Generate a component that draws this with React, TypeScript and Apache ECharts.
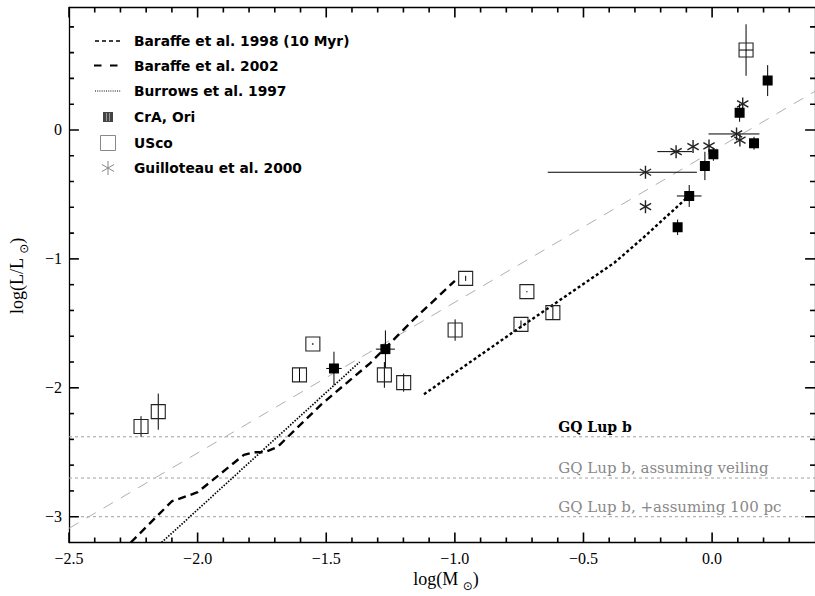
import React, { useEffect, useRef } from 'react';
import * as echarts from 'echarts';

// ---- axis ranges & ticks ----
const X_MIN = -2.5;
const X_MAX = 0.4;
const Y_MIN = -3.2;
const Y_MAX = 0.95;
const xMajorTicks = [-2.5, -2.0, -1.5, -1.0, -0.5, 0.0];
const xMinorTicks = [-2.4, -2.3, -2.2, -2.1, -1.9, -1.8, -1.7, -1.6, -1.4, -1.3, -1.2, -1.1, -0.9, -0.8, -0.7, -0.6, -0.4, -0.3, -0.2, -0.1, 0.1, 0.2, 0.3];
const yMajorTicks = [-3, -2, -1, 0];
const yMinorTicks = [-2.8, -2.6, -2.4, -2.2, -1.8, -1.6, -1.4, -1.2, -0.8, -0.6, -0.4, -0.2, 0.2, 0.4, 0.6, 0.8];

// ---- model tracks ----
const baraffe1998 = [[-1.12, -2.05], [-0.76, -1.55], [-0.38, -1.03], [-0.27, -0.84], [-0.10, -0.53]];
const baraffe2002 = [[-2.26, -3.2], [-2.10, -2.88], [-2.07, -2.86], [-2.0, -2.81], [-1.82, -2.52], [-1.78, -2.50], [-1.74, -2.50], [-1.69, -2.46], [-1.52, -2.13], [-1.33, -1.81], [-1.16, -1.47], [-1.0, -1.17]];
const burrows1997 = [[-2.14, -3.2], [-1.53, -2.09], [-1.37, -1.80]];
const fitLine = [[-2.5, -3.09], [0.4, 0.30]];

// ---- GQ Lup b levels ----
const gqLupLevels = [-2.38, -2.70, -3.0];
const gqLupLabels = ['GQ Lup b', 'GQ Lup b, assuming veiling', 'GQ Lup b, +assuming 100 pc'];
const gqLupLabelX = -0.598;

// ---- objects: [logM, logL, errXlow, errXhigh, errYlow, errYhigh] ----
const craOri = [
  [-1.47, -1.85, 0.03, 0.03, 0.13, 0.13],
  [-1.27, -1.70, 0.037, 0.037, 0.145, 0.145],
  [-0.134, -0.755, 0, 0, 0.06, 0.06],
  [-0.089, -0.512, 0.048, 0.048, 0.085, 0.085],
  [-0.028, -0.279, 0, 0, 0.11, 0.11],
  [0.005, -0.189, 0, 0, 0.05, 0.05],
  [0.107, 0.134, 0, 0, 0.07, 0.07],
  [0.163, -0.103, 0, 0, 0.05, 0.05],
  [0.216, 0.383, 0, 0, 0.12, 0.12],
];
const usco = [
  [-2.22, -2.30, 0, 0, 0.08, 0.08],
  [-2.153, -2.185, 0, 0, 0.14, 0.14],
  [-1.604, -1.90, 0, 0, 0.055, 0.055],
  [-1.552, -1.66, 0, 0, 0.008, 0.008],
  [-1.274, -1.90, 0, 0, 0.10, 0.10],
  [-1.199, -1.96, 0, 0, 0.07, 0.07],
  [-0.999, -1.552, 0, 0, 0.083, 0.083],
  [-0.958, -1.151, 0, 0, 0.02, 0.02],
  [-0.743, -1.508, 0, 0, 0.03, 0.03],
  [-0.72, -1.254, 0, 0, 0.005, 0.005],
  [-0.619, -1.417, 0, 0, 0.055, 0.055],
  [0.132, 0.62, 0.027, 0.027, 0.2, 0.2],
];
const guilloteau = [
  [-0.259, -0.328, 0.38, 0.20, 0, 0],
  [-0.259, -0.595, 0, 0, 0, 0],
  [-0.14, -0.168, 0.073, 0.063, 0, 0],
  [-0.074, -0.129, 0, 0, 0, 0],
  [-0.012, -0.124, 0, 0, 0, 0],
  [0.095, -0.031, 0.109, 0.089, 0, 0],
  [0.108, -0.078, 0, 0, 0, 0],
  [0.119, 0.202, 0, 0, 0, 0],
];

const legendItems = [
  'Baraffe et al. 1998 (10 Myr)',
  'Baraffe et al. 2002',
  'Burrows et al. 1997',
  'CrA, Ori',
  'USco',
  'Guilloteau et al. 2000',
];

const SERIF = '"Liberation Serif", "Times New Roman", serif';
const fmtMinus = (v: number, d: number) => (v < 0 ? '\u2212' : '') + Math.abs(v).toFixed(d);

// layout (pixels)
const GRID_LEFT = 69;
const GRID_RIGHT = -7;
const GRID_TOP = 7.5;
const GRID_BOTTOM = 53.5;
const W = 815;
const H = 596;
const MAJOR_LEN = 10;
const MINOR_LEN = 5;
const TICK_W = 1.6;

function errorBars(api: any, x: number, y: number) {
  const out: any[] = [];
  const st = { stroke: '#000', lineWidth: 1 };
  const exl = api.value(2), exr = api.value(3), eyl = api.value(4), eyh = api.value(5);
  if (exl > 0 || exr > 0) {
    const a = api.coord([x - exl, y]);
    const b = api.coord([x + exr, y]);
    out.push({ type: 'line', shape: { x1: a[0], y1: a[1], x2: b[0], y2: b[1] }, style: st });
  }
  if (eyl > 0 || eyh > 0) {
    const a = api.coord([x, y - eyl]);
    const b = api.coord([x, y + eyh]);
    out.push({ type: 'line', shape: { x1: a[0], y1: a[1], x2: b[0], y2: b[1] }, style: st });
  }
  return out;
}

function asterisk(cx: number, cy: number, r: number, color: string, lw: number) {
  const dx = r * 0.866, dy = r * 0.5;
  const st = { stroke: color, lineWidth: lw };
  return [
    { type: 'line', shape: { x1: cx, y1: cy - r, x2: cx, y2: cy + r }, style: st },
    { type: 'line', shape: { x1: cx - dx, y1: cy - dy, x2: cx + dx, y2: cy + dy }, style: st },
    { type: 'line', shape: { x1: cx - dx, y1: cy + dy, x2: cx + dx, y2: cy - dy }, style: st },
  ];
}

export default function App() {
  const ref = useRef<HTMLDivElement>(null);
  useEffect(() => {
    if (!ref.current) return;
    const chart = echarts.init(ref.current, undefined, { renderer: 'svg' });

    const mkX = (pos: string, labels: boolean) => ({
      type: 'value', position: pos, min: X_MIN, max: X_MAX,
      axisLine: { show: true, onZero: false, lineStyle: { color: '#000', width: 1.3 } },
      axisTick: { show: false },
      axisLabel: labels ? { show: true, customValues: xMajorTicks, formatter: (v: number) => fmtMinus(v, 1), fontFamily: SERIF, fontSize: 16, color: '#000', margin: 8 } : { show: false },
      splitLine: { show: false },
      minorTick: { show: false },
    });
    const mkY = (pos: string, labels: boolean) => ({
      type: 'value', position: pos, min: Y_MIN, max: Y_MAX,
      axisLine: { show: true, onZero: false, lineStyle: { color: '#000', width: 1.3 } },
      axisTick: { show: false },
      axisLabel: labels ? { show: true, customValues: yMajorTicks, formatter: (v: number) => fmtMinus(v, 0), fontFamily: SERIF, fontSize: 16, color: '#000', margin: 7 } : { show: false },
      splitLine: { show: false },
      minorTick: { show: false },
    });

    const lineSeries = (data: number[][], color: string, width: number, dash: any, z = 3) => ({
      type: 'line', data, xAxisIndex: 0, yAxisIndex: 0, symbol: 'none', silent: true, z,
      lineStyle: { color, width, type: dash, cap: 'butt' },
    });

    const gqSeries = gqLupLevels.map((lv) => lineSeries([[X_MIN, lv], [X_MAX, lv]], '#a0a0a0', 1, [3, 3], 1));

    // tick marks as short line series, lengths converted from pixels to axis units
    const xPerPx = (X_MAX - X_MIN) / (W - GRID_LEFT - GRID_RIGHT);
    const yPerPx = (Y_MAX - Y_MIN) / (H - GRID_TOP - GRID_BOTTOM);
    const tickLines: any[] = [];
    const addXTicks = (vals: number[], len: number) => vals.forEach((v) => {
      tickLines.push(lineSeries([[v, Y_MIN], [v, Y_MIN + len * yPerPx]], '#000', TICK_W, 'solid', 10));
      tickLines.push(lineSeries([[v, Y_MAX], [v, Y_MAX - len * yPerPx]], '#000', TICK_W, 'solid', 10));
    });
    const addYTicks = (vals: number[], len: number) => vals.forEach((v) => {
      tickLines.push(lineSeries([[X_MIN, v], [X_MIN + len * xPerPx, v]], '#000', TICK_W, 'solid', 10));
      tickLines.push(lineSeries([[X_MAX, v], [X_MAX - len * xPerPx, v]], '#000', TICK_W, 'solid', 10));
    });
    addXTicks(xMajorTicks, MAJOR_LEN);
    addXTicks(xMinorTicks, MINOR_LEN);
    addYTicks(yMajorTicks, MAJOR_LEN);
    addYTicks(yMinorTicks, MINOR_LEN);

    const legendY = [41, 65.5, 91, 117, 143, 168];
    const graphic: any[] = [];
    graphic.push({ type: 'line', shape: { x1: 95, y1: legendY[0], x2: 120, y2: legendY[0] }, style: { stroke: '#000', lineWidth: 1.5, lineDash: [4, 3] } });
    graphic.push({ type: 'line', shape: { x1: 94, y1: legendY[1], x2: 118, y2: legendY[1] }, style: { stroke: '#000', lineWidth: 2, lineDash: [7.5, 8.5] } });
    graphic.push({ type: 'line', shape: { x1: 95, y1: legendY[2], x2: 121, y2: legendY[2] }, style: { stroke: '#000', lineWidth: 1, lineDash: [1, 1.2] } });
    graphic.push({ type: 'rect', shape: { x: 103, y: legendY[3] - 5, width: 10, height: 10 }, style: { fill: '#444' } });
    graphic.push({ type: 'line', shape: { x1: 106.5, y1: legendY[3] - 4, x2: 106.5, y2: legendY[3] + 4 }, style: { stroke: '#999', lineWidth: 1 } });
    graphic.push({ type: 'line', shape: { x1: 109.5, y1: legendY[3] - 4, x2: 109.5, y2: legendY[3] + 4 }, style: { stroke: '#999', lineWidth: 1 } });
    graphic.push({ type: 'rect', shape: { x: 100.5, y: legendY[4] - 7.5, width: 15, height: 15 }, style: { fill: 'none', stroke: '#888', lineWidth: 1 } });
    asterisk(108, legendY[5], 7, '#888', 1).forEach((e) => graphic.push(e));
    legendItems.forEach((t, i) => {
      graphic.push({ type: 'text', x: 134, y: legendY[i], style: { text: t, fill: '#000', fontFamily: '"DejaVu Sans", sans-serif', fontWeight: 'bold', fontSize: 13.8, verticalAlign: 'middle', align: 'left' } });
    });
    const titleRich = {
      a: { fontFamily: SERIF, fontSize: 18, color: '#000', lineHeight: 26 },
      s: { fontFamily: '"DejaVu Sans", sans-serif', fontSize: 12, color: '#000', lineHeight: 12, verticalAlign: 'bottom' },
    };
    graphic.push({ type: 'text', x: 446, y: 579, style: { text: '{a|log(M }{s|\u2299}{a|)}', rich: titleRich, align: 'center', verticalAlign: 'middle' } });
    graphic.push({ type: 'text', x: 17, y: 276, rotation: Math.PI / 2, style: { text: '{a|log(L/L }{s|\u2299}{a|)}', rich: titleRich, align: 'center', verticalAlign: 'middle' } });

    const option: any = {
      animation: false,
      backgroundColor: '#fff',
      grid: { left: GRID_LEFT, right: GRID_RIGHT, top: GRID_TOP, bottom: GRID_BOTTOM, containLabel: false },
      xAxis: [mkX('bottom', true), mkX('top', false)],
      yAxis: [mkY('left', true), mkY('right', false)],
      graphic,
      series: [
        ...gqSeries,
        lineSeries(fitLine, '#b0b0b0', 1, [11, 9], 2),
        lineSeries(baraffe1998, '#000', 2.4, [3, 2.5]),
        lineSeries(baraffe2002, '#000', 2.4, [8, 5]),
        lineSeries(burrows1997, '#000', 1.7, [1.5, 1.5]),
        ...tickLines,
        {
          type: 'custom', xAxisIndex: 0, yAxisIndex: 0, silent: true, z: 5,
          data: gqLupLevels.map((lv, i) => [gqLupLabelX, lv, i]),
          encode: { x: 0, y: 1 },
          renderItem: (params: any, api: any) => {
            const i = api.value(2);
            const c = api.coord([api.value(0), api.value(1)]);
            const first = i === 0;
            return {
              type: 'text', x: c[0], y: c[1] - 10,
              style: {
                text: gqLupLabels[i], fill: first ? '#000' : '#888',
                fontFamily: '"DejaVu Serif", serif', fontWeight: first ? 'bold' : 'normal',
                fontSize: first ? 14 : 15, align: 'left', verticalAlign: 'middle',
              },
            };
          },
        },
        {
          type: 'custom', xAxisIndex: 0, yAxisIndex: 0, silent: true, z: 6, clip: true,
          data: usco, encode: { x: 0, y: 1 },
          renderItem: (params: any, api: any) => {
            const x = api.value(0), y = api.value(1);
            const c = api.coord([x, y]);
            const s = 14;
            return {
              type: 'group',
              children: [
                ...errorBars(api, x, y),
                { type: 'rect', shape: { x: c[0] - s / 2, y: c[1] - s / 2, width: s, height: s }, style: { fill: 'none', stroke: '#222', lineWidth: 1.1 } },
              ],
            };
          },
        },
        {
          type: 'custom', xAxisIndex: 0, yAxisIndex: 0, silent: true, z: 7, clip: true,
          data: guilloteau, encode: { x: 0, y: 1 },
          renderItem: (params: any, api: any) => {
            const x = api.value(0), y = api.value(1);
            const c = api.coord([x, y]);
            return { type: 'group', children: [...errorBars(api, x, y), ...asterisk(c[0], c[1], 6.5, '#222', 1.4)] };
          },
        },
        {
          type: 'custom', xAxisIndex: 0, yAxisIndex: 0, silent: true, z: 8, clip: true,
          data: craOri, encode: { x: 0, y: 1 },
          renderItem: (params: any, api: any) => {
            const x = api.value(0), y = api.value(1);
            const c = api.coord([x, y]);
            const s = 10;
            return {
              type: 'group',
              children: [
                ...errorBars(api, x, y),
                { type: 'rect', shape: { x: c[0] - s / 2, y: c[1] - s / 2, width: s, height: s }, style: { fill: '#000' } },
              ],
            };
          },
        },
      ],
    };
    chart.setOption(option);
    return () => chart.dispose();
  }, []);
  return <div ref={ref} style={{ position: 'fixed', left: 0, top: 0, width: W, height: H, overflow: 'hidden' }} />;
}
